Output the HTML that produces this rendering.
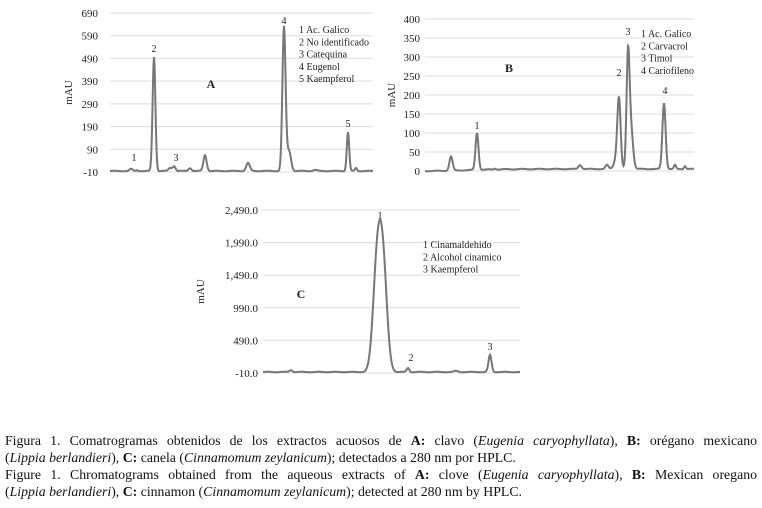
<!DOCTYPE html>
<html><head><meta charset="utf-8"><style>
body{margin:0;background:#fff;width:762px;height:508px;overflow:hidden;font-family:"Liberation Serif",serif}
svg{position:absolute;left:0;top:0}
.cap{position:absolute;left:5px;width:752px;font-size:13.8px;line-height:17px;color:#111;white-space:nowrap}
.j{text-align:justify;text-align-last:justify}
</style></head><body>
<svg width="762" height="420" id="s" font-family="Liberation Serif, serif" fill="#222"></svg>
<div class="cap j" style="top:432px">Figura 1. Comatrogramas obtenidos de los extractos acuosos de <b>A:</b> clavo (<i>Eugenia caryophyllata</i>), <b>B:</b> orégano mexicano</div>
<div class="cap" style="top:449px">(<i>Lippia berlandieri</i>), <b>C:</b> canela (<i>Cinnamomum zeylanicum</i>); detectados a 280 nm por HPLC.</div>
<div class="cap j" style="top:466px">Figure 1. Chromatograms obtained from the aqueous extracts of <b>A:</b> clove (<i>Eugenia caryophyllata</i>), <b>B:</b> Mexican oregano</div>
<div class="cap" style="top:483px">(<i>Lippia berlandieri</i>), <b>C:</b> cinnamon (<i>Cinnamomum zeylanicum</i>); detected at 280 nm by HPLC.</div>
<script>
var s=document.getElementById('s'),h='';
function chart(x0,x1,ytop,ybot,labels,lx,peaks,base,yl){
 var n=labels.length;
 for(var i=0;i<n;i++){var y=ytop+(ybot-ytop)*i/(n-1);
  h+='<line x1="'+x0+'" x2="'+x1+'" y1="'+y+'" y2="'+y+'" stroke="#ddd" stroke-width="1"/>';
  h+='<text x="'+lx+'" y="'+(y+4)+'" font-size="11" text-anchor="end">'+labels[i]+'</text>';}
 h+='<text transform="translate('+(yl)+','+((ytop+ybot)/2)+') rotate(-90)" font-size="11" text-anchor="middle">mAU</text>';
 var d='';
 for(var x=x0;x<=x1;x+=0.5){var y=base;for(var p of peaks){y-=p[1]*Math.exp(-Math.pow((x-p[0])/p[2],2)/2);}
  y+=Math.sin(x*0.37)*0.3;d+=(d?'L':'M')+x+' '+y.toFixed(2);}
 h+='<path d="'+d+'" fill="none" stroke="#777" stroke-width="2"/>';
}
chart(110,373,13,172,['690','590','490','390','290','190','90','-10'],98,
 [[131,2,1.5],[137,1,1],[154,114,1.4],[170,3,1.5],[174,5,1.5],[190,3,1.5],[205,16,1.6],[248,8,1.8],[284,144,1.6],[289,20,2],[348,39,1.2],[356,3,1],[315,1,2]],171,72);
chart(425,694,19,171,['400','350','300','250','200','150','100','50','0'],420,
 [[451,14,1.6],[477,37,1.5],[495,1,1],[580,4,1.6],[607,4,1.5],[617,12,2.5],[619,64,1.6],[628,110,1.5],[631,40,2],[664,66,1.6],[675,4,1],[685,3,1],[425,-2,40]],169,395);
chart(263,520,210,373,['2,490.0','1,990.0','1,490.0','990.0','490.0','-10.0'],258,
 [[291,2,1.5],[377,101,4],[383,101,4],[408,4,1.3],[456,1,2],[490,17,1.5]],372,204);
var t=[[134,161,'1'],[154,52,'2'],[176,161,'3'],[284,24,'4'],[348,127,'5'],[477,129,'1'],[619,76,'2'],[628,35,'3'],[665,94,'4'],[380,219,'1'],[411,361,'2'],[490,350,'3']];
for(var a of t)h+='<text x="'+a[0]+'" y="'+a[1]+'" font-size="10" text-anchor="middle">'+a[2]+'</text>';
function leg(x,y,arr){arr.forEach(function(l,i){h+='<text x="'+x+'" y="'+(y+i*12.3)+'" font-size="10">'+l+'</text>';});}
leg(299,33,['1 Ac. Galico','2 No identificado','3 Catequina','4 Eugenol','5 Kaempferol']);
leg(641,37,['1 Ac. Galico','2 Carvacrol','3 Timol','4 Cariofileno']);
leg(423,248,['1 Cinamaldehido','2 Alcohol cinamico','3 Kaempferol']);
h+='<text x="211" y="88" font-size="12" font-weight="bold" text-anchor="middle">A</text>';
h+='<text x="509" y="72" font-size="12" font-weight="bold" text-anchor="middle">B</text>';
h+='<text x="301" y="298" font-size="12" font-weight="bold" text-anchor="middle">C</text>';
s.innerHTML=h;
</script>
</body></html>
